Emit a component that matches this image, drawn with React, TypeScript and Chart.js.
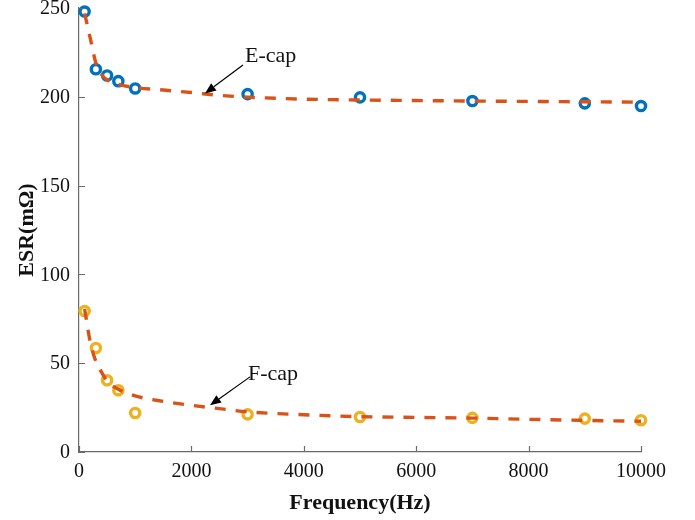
import React, { useEffect, useRef } from "react";
import { Chart, registerables } from "chart.js";

Chart.register(...registerables);

const freq = [100, 300, 500, 700, 1000, 3000, 5000, 7000, 9000, 10000];
const eCap = [248, 215.5, 212, 208.8, 204.7, 201.5, 199.7, 197.6, 196.3, 194.8];
const fCap = [79.4, 58.6, 40.4, 34.8, 22, 21.2, 19.7, 19.2, 18.8, 17.9];

const fitFreq = [100, 200, 300, 400, 500, 700, 1000, 1500, 2000, 2500, 3000, 4000, 5000, 6000, 7000, 8000, 9000, 10000];
const eFit = [247, 233, 219, 212.5, 209.5, 207, 205.2, 203.8, 202.4, 200.8, 199.8, 198.7, 198.2, 197.9, 197.6, 197.4, 197.2, 197];
const fFit = [80.5, 62, 51, 45, 40, 35.3, 31.6, 28.5, 26.3, 24.4, 22.6, 21, 19.9, 19.5, 19.1, 18.4, 17.8, 17.3];

const xTicks = [0, 2000, 4000, 6000, 8000, 10000];
const yTicks = [0, 50, 100, 150, 200, 250];

const seriesLabels = ["E-cap", "F-cap"];

const FONT = "'Liberation Serif', 'Times New Roman', serif";
const BLUE = "#0072BD";
const YELLOW = "#EDB120";
const ORANGE = "#D95319";
const AXIS = "#6a6a6a";

const annotations = [
  { text: seriesLabels[0], tx: 2954, ty: 223, ax: 2918, ay: 217.9, hx: 2242, hy: 201.9 },
  { text: seriesLabels[1], tx: 3007, ty: 43.8, ax: 3043, ay: 42.3, hx: 2331, hy: 26.3 },
];

const overlayPlugin = {
  id: "overlay",
  afterDraw(chart: any) {
    const ctx = chart.ctx;
    const xs = chart.scales.x;
    const ys = chart.scales.y;
    const area = chart.chartArea;
    ctx.save();
    // inward ticks
    ctx.strokeStyle = AXIS;
    ctx.lineWidth = 1.2;
    ctx.beginPath();
    xTicks.forEach((v) => {
      const px = Math.round(xs.getPixelForValue(v)) + 0.5;
      ctx.moveTo(px, area.bottom);
      ctx.lineTo(px, area.bottom - 6);
    });
    yTicks.forEach((v) => {
      const py = Math.round(ys.getPixelForValue(v)) + 0.5;
      ctx.moveTo(area.left, py);
      ctx.lineTo(area.left + 6, py);
    });
    ctx.stroke();

    // y tick labels
    ctx.fillStyle = "#111";
    ctx.font = `20px ${FONT}`;
    ctx.textAlign = "right";
    ctx.textBaseline = "middle";
    yTicks.forEach((v) => {
      ctx.fillText(String(v), area.left - 9, ys.getPixelForValue(v) + 1);
    });

    // annotations
    annotations.forEach((a) => {
      const x0 = xs.getPixelForValue(a.ax);
      const y0 = ys.getPixelForValue(a.ay);
      const x1 = xs.getPixelForValue(a.hx);
      const y1 = ys.getPixelForValue(a.hy);
      const ang = Math.atan2(y1 - y0, x1 - x0);
      const hl = 11;
      const hw = 4.5;
      const bx = x1 - hl * Math.cos(ang);
      const by = y1 - hl * Math.sin(ang);
      ctx.strokeStyle = "#000";
      ctx.lineWidth = 1.2;
      ctx.beginPath();
      ctx.moveTo(x0, y0);
      ctx.lineTo(bx, by);
      ctx.stroke();
      ctx.fillStyle = "#000";
      ctx.beginPath();
      ctx.moveTo(x1, y1);
      ctx.lineTo(bx + hw * Math.sin(ang), by - hw * Math.cos(ang));
      ctx.lineTo(bx - hw * Math.sin(ang), by + hw * Math.cos(ang));
      ctx.closePath();
      ctx.fill();
      ctx.fillStyle = "#111";
      ctx.font = `22px ${FONT}`;
      ctx.textAlign = "left";
      ctx.textBaseline = "middle";
      ctx.fillText(a.text, xs.getPixelForValue(a.tx), ys.getPixelForValue(a.ty));
    });
    ctx.restore();
  },
};

export default function App() {
  const ref = useRef<HTMLCanvasElement | null>(null);
  useEffect(() => {
    document.body.style.margin = "0";
    if (!ref.current) return;
    const fitStyle = {
      type: "line",
      borderColor: ORANGE,
      borderWidth: 3.4,
      borderDash: [11, 10],
      pointRadius: 0,
      cubicInterpolationMode: "monotone",
      fill: false,
      clip: false,
      order: 0,
    };
    const markStyle = {
      backgroundColor: "rgba(0,0,0,0)",
      borderWidth: 3.4,
      pointRadius: 4.6,
      clip: false,
      order: 1,
    };
    const chart = new Chart(ref.current, {
      type: "scatter",
      data: {
        datasets: [
          { ...fitStyle, label: seriesLabels[0] + " fit", data: fitFreq.map((x, i) => ({ x, y: eFit[i] })) },
          { ...fitStyle, label: seriesLabels[1] + " fit", data: fitFreq.map((x, i) => ({ x, y: fFit[i] })) },
          { ...markStyle, label: seriesLabels[0], borderColor: BLUE, data: freq.map((x, i) => ({ x, y: eCap[i] })) },
          { ...markStyle, label: seriesLabels[1], borderColor: YELLOW, data: freq.map((x, i) => ({ x, y: fCap[i] })) },
        ],
      },
      options: {
        responsive: false,
        animation: false,
        events: [],
        layout: { padding: { left: 0, right: 54, top: 8, bottom: 0 } },
        plugins: { legend: { display: false }, tooltip: { enabled: false } },
        scales: {
          x: {
            type: "linear",
            min: 0,
            max: 10000,
            afterBuildTicks: (axis: any) => {
              axis.ticks = xTicks.map((v) => ({ value: v }));
            },
            afterFit: (axis: any) => {
              axis.height = 68;
            },
            grid: { display: true, drawOnChartArea: false, drawTicks: false },
            border: { display: true, color: AXIS, width: 1.2 },
            ticks: {
              padding: 8,
              color: "#111",
              maxRotation: 0,
              autoSkip: false,
              callback: (v: any) => String(v),
              font: { family: FONT, size: 20 },
            },
            title: {
              display: true,
              text: "Frequency(Hz)",
              color: "#111",
              font: { family: FONT, size: 22, weight: "bold" },
              padding: { top: 0, bottom: 3 },
            },
          },
          y: {
            type: "linear",
            min: 0,
            max: 250,
            afterBuildTicks: (axis: any) => {
              axis.ticks = yTicks.map((v) => ({ value: v }));
            },
            afterFit: (axis: any) => {
              axis.width = 79;
            },
            grid: { display: true, drawOnChartArea: false, drawTicks: false },
            border: { display: true, color: AXIS, width: 1.2 },
            ticks: { display: false },
            title: {
              display: true,
              text: "ESR(mΩ)",
              color: "#111",
              font: { family: FONT, size: 22, weight: "bold" },
              padding: { top: 14, bottom: 0 },
            },
          },
        },
      },
      plugins: [overlayPlugin],
    } as any);
    return () => chart.destroy();
  }, []);
  return (
    <div style={{ width: 695, height: 520 }}>
      <canvas ref={ref} width={695} height={520} />
    </div>
  );
}
